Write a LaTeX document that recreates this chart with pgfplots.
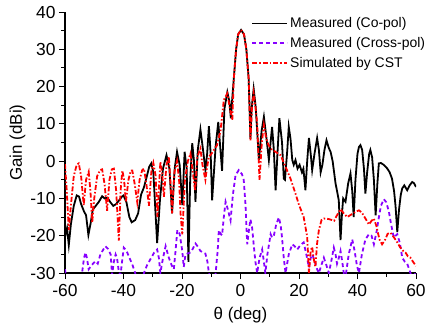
\documentclass[border=0pt]{standalone}
\usepackage{fontspec}
\setmainfont{Liberation Sans}
\usepackage{pgfplots}
\pgfplotsset{compat=1.18}
\definecolor{xpol}{RGB}{136,0,255}
\definecolor{simred}{RGB}{255,0,0}
\begin{document}
\begin{tikzpicture}
\path[use as bounding box] (-65bp,-55bp) rectangle (365bp,273bp);
\begin{axis}[
  scale only axis, width=351bp, height=261bp,
  xmin=-60, xmax=60, ymin=-30, ymax=40,
  axis x line=bottom, axis y line=left,
  axis line style={-, line width=1.2pt},
  xtick={-60,-40,-20,0,20,40,60},
  ytick={-30,-20,-10,0,10,20,30,40},
  minor x tick num=1, minor y tick num=1,
  tick align=outside,
  major tick length=6bp, minor tick length=3.5bp,
  tick style={line width=1pt, black},
  /pgf/number format/assume math mode=true,
  tick label style={font=\fontsize{17.5}{19}\selectfont},
  xticklabel style={yshift=-2bp},
  label style={font=\fontsize{17}{19}\selectfont},
  xlabel={θ (deg)}, ylabel={Gain (dBi)},
  xlabel style={yshift=-4bp},
  ylabel style={yshift=-2bp},
  legend style={at={(1.035,0.99)}, anchor=north east, draw=none, fill=none,
    font=\fontsize{14}{16}\selectfont, row sep=4bp, inner sep=1bp},
  legend cell align=left,
  legend image code/.code={\draw[#1] (0bp,0bp) -- (35bp,0bp);},
]
\addplot[color=black, line width=1.8pt] coordinates {
(-60,-20.3) (-59.3,-18) (-58.7,-22.5) (-58,-17) (-57,-12) (-56,-9.2) (-55.2,-9.5)
(-54.5,-11.5) (-53.5,-13.5) (-52.8,-14.5) (-52,-19.8) (-51.2,-16.5) (-50.5,-13)
(-49.5,-12) (-48.5,-11) (-47.3,-9.4) (-46.5,-10) (-45.5,-9.8) (-44.5,-11) (-43.5,-12)
(-42.5,-11.5) (-41.5,-10.5) (-40.5,-9.5) (-40,-9.2) (-39,-11) (-38,-15) (-37.2,-16.4)
(-36,-15.8) (-35,-14) (-34,-9) (-33,-7) (-32,-4) (-31.2,-1.5) (-30.5,-0.6) (-29.8,-3)
(-28.5,-22) (-27.5,-10) (-26.5,-2) (-25.3,1.6) (-24.3,-2) (-23.4,-14) (-22.5,-2)
(-21.7,2.5) (-20.8,-1) (-19.9,-11.8) (-19.1,2.5) (-18.4,-2) (-17.8,-27) (-17.2,-5)
(-16.5,4.8) (-15.9,0) (-15.4,-10.9) (-14.6,3) (-13.7,8.5) (-12.8,3) (-12,-2.4)
(-11.4,2) (-10.8,9.4) (-10.2,2) (-9.7,-10.5) (-8.5,4) (-7.6,10.5) (-6.3,-2.6)
(-5.5,14) (-4.5,18.5) (-3.8,16) (-3.3,11.5) (-2.8,17) (-2.3,22) (-1.5,30) (-0.8,34)
(0.2,35.2) (1.2,34) (2,30) (2.8,22) (3.4,6) (3.8,14) (4.5,19.4) (5.2,14.5) (6.3,0.3)
(7.2,8) (8,11.9) (8.9,6) (9.7,0.3) (10.8,9.2) (11.4,3) (12,-7.8) (12.7,3) (13.3,11.5)
(14.2,5) (14.8,-4.7) (15.2,-5) (16,3) (16.5,9.2) (17.1,6) (17.7,0.3) (18.2,-1)
(18.8,0.3) (19.5,-2) (20.2,-1) (21,-3) (21.5,-2) (22.2,-7.8) (22.8,0) (23.4,6.2)
(24,2) (24.5,-2.4) (25.3,2) (26.2,6.2) (26.8,3) (27.4,-3) (28,-1) (28.7,3) (29.4,5.6)
(30.2,3.5) (30.8,2.5) (31.5,0) (32.5,-6) (33,-8) (33.6,-10.5) (34.2,-21.2) (34.7,-14)
(35.1,-10) (35.9,-10.9) (36.8,-6) (37.6,-3.3) (38.2,-8) (38.7,-15) (39.3,-5) (40,2)
(40.5,3.8) (41,4.3) (41.6,3) (42.2,-2) (42.7,-8.7) (43.3,-3) (44,2) (44.4,3) (45,1)
(45.6,-5) (46.2,-14.5) (46.8,-6) (47.3,-0.6) (48,-0.5) (49,-1) (50.2,-2) (51,-3)
(51.8,-4.7) (52.5,-8) (53,-12) (53.6,-19) (54.2,-13) (54.8,-9) (55.3,-7.3) (56,-6.5)
(57,-7.8) (57.8,-6.5) (58.7,-5.6) (59.3,-5.9) (60,-6.9)
};
\addlegendentry{Measured (Co-pol)}
\addplot[color=xpol, line width=1.8pt, dash pattern=on 4bp off 3bp] coordinates {
(-60,-29) (-59.5,-32) (-54.5,-32) (-53.5,-26) (-53,-24.5) (-52.5,-26) (-51.9,-29)
(-51,-28) (-49.6,-26.8) (-48.8,-27.5) (-47.9,-25) (-46.2,-22.8) (-45.3,-23.5)
(-44.4,-25) (-43.9,-30.5) (-43.3,-27) (-42.7,-25) (-42.2,-26) (-41.6,-29.7) (-41,-30.5)
(-40.5,-27) (-39.9,-23.2) (-39,-24) (-38.2,-25.5) (-37,-27.7) (-36,-30) (-35.5,-32)
(-33.5,-32) (-33,-30) (-32,-28) (-30.8,-26.3) (-29.5,-24.5) (-28.5,-23.7) (-27.9,-26)
(-27.4,-30) (-26.5,-26) (-25.6,-22.8) (-24.5,-25.9) (-23.5,-28) (-22.8,-29) (-22.2,-24)
(-21.6,-18.5) (-20.8,-19.5) (-19.9,-24.1) (-19.4,-28.4) (-18.8,-25) (-18.2,-24.8)
(-17.1,-24.5) (-16.3,-23.5) (-15.4,-22.1) (-14.5,-23) (-13.7,-24.1) (-12.8,-24.5)
(-12,-24.8) (-11.3,-27) (-10.8,-30) (-10,-32) (-9,-32) (-8.5,-30) (-7.8,-24)
(-7.4,-18.5) (-6.8,-19.5) (-6.3,-19.9) (-5.7,-15) (-5.1,-10.9) (-4.3,-13) (-3.4,-15.9)
(-2.6,-9) (-1.7,-3.8) (-0.6,-2.4) (0.5,-3.5) (1.1,-5) (1.7,-11.6) (2.3,-22.3) (2.8,-19)
(3.4,-15.6) (4,-18) (4.5,-22.3) (5.1,-27) (5.7,-30) (6.5,-26) (7.4,-23.7) (8,-27)
(8.5,-30) (9.2,-25) (10.3,-19.6) (10.8,-20.5) (11.4,-20) (12.2,-17) (13.1,-15.1)
(13.7,-17) (14.2,-20.5) (14.8,-26) (15.4,-30) (16.5,-25) (17.7,-22.3) (18.5,-22.8)
(19.4,-23.7) (20.5,-22.5) (21.6,-21.8) (22.5,-25) (23.4,-28.5) (24,-26) (24.5,-25)
(25,-26) (25.6,-27.5) (26.2,-29) (26.8,-30) (27.6,-28) (28.5,-25.9) (29.4,-28)
(30.2,-30) (31,-27) (31.9,-23.2) (32.5,-25) (33,-27.5) (33.6,-26) (34.2,-24.1)
(34.8,-27) (35.3,-30) (36,-30.5) (37,-25) (38.2,-21) (39,-24) (39.8,-28) (40.5,-30)
(41.5,-25) (42.7,-21) (43.9,-19.6) (44.8,-20) (45.6,-22.3) (46.5,-19) (47.3,-15.1)
(48,-12) (49,-10.2) (49.8,-11) (50.7,-13.4) (51.5,-17) (52.4,-20.5) (53,-20)
(53.6,-19.6) (54.5,-22) (55.3,-25.9) (56.2,-27) (57,-27.5) (58.1,-30) (59,-32) (59.8,-30)
};
\addlegendentry{Measured (Cross-pol)}
\addplot[color=simred, line width=1.8pt, dash pattern=on 5bp off 2bp on 1.5bp off 2bp] coordinates {
(-60,-0.8) (-59.4,-8) (-58.7,-18.5) (-58,-12) (-57,-4) (-56,-1) (-55.3,-0.6)
(-54.5,-4) (-53.6,-11.8) (-52.8,-5) (-51.9,-2.9) (-51.3,-8) (-50.7,-16.5) (-50,-10)
(-49,-4) (-48,-2.4) (-47.3,-2.2) (-46.5,-6) (-45.6,-13.3) (-44.8,-5) (-44,-2.2)
(-43.3,-2) (-42.5,-8) (-41.6,-21.3) (-41,-8) (-40.4,-2.5) (-39.8,-5) (-39.2,-11)
(-38.3,-5) (-37.5,-2.5) (-37,-2.5) (-36.2,-6) (-35.3,-11) (-34.5,-5) (-33.6,-2.4)
(-33,-2) (-32.2,-6) (-31.3,-12) (-30.5,-3) (-29.8,-0.5) (-29,-4) (-28.4,-15)
(-27.4,-0.2) (-26.8,-3) (-26.2,-9.6) (-25.3,-1) (-24.5,1.2) (-24,-5) (-23.4,-14)
(-22.6,-3) (-21.7,0) (-21,-5) (-20.5,-14) (-19.9,-19.6) (-19,-5) (-18,0) (-17.1,2)
(-16.3,-3) (-15.5,-8) (-14.8,1) (-13.7,3.4) (-13,-1) (-12,-5) (-11.5,-2) (-10.8,1.2)
(-9.9,2) (-9.1,3) (-8,4.3) (-6.8,8.3) (-5.7,16.4) (-4.5,18.2) (-3.6,14) (-2.8,11)
(-2.3,22) (-1.5,30) (-0.8,34) (0.2,35.2) (1.2,34) (2,30) (2.8,22) (3.4,5.6) (3.9,14)
(4.5,18.2) (5.2,14) (5.7,10) (6.5,-5) (7.3,5) (8,9.7) (8.8,6) (9.6,4.3) (10.8,3)
(12,2.5) (13.7,1.6) (15.4,-1.5) (17.1,-4.7) (18.8,-8.7) (19.9,-11.5) (21.6,-15)
(22.8,-20.3) (23.4,-30) (24,-24) (24.5,-23) (25,-26) (25.6,-28.4) (26.2,-22)
(26.8,-18.5) (27.7,-15.8) (28.5,-15.4) (30,-15.5) (31.3,-15.8) (32,-16) (33,-14.5)
(34.2,-12.9) (35.3,-14) (36.5,-15) (37.5,-14.5) (38.5,-14) (39.5,-13.5) (40.5,-13.2)
(41.5,-13.8) (42.8,-15.5) (43.9,-17) (44.8,-16) (45.6,-15.4) (46.5,-17.5) (47.5,-21)
(48.4,-22.3) (49.5,-21) (50.3,-19.5) (51.3,-19.2) (52.5,-20.5) (53.6,-21.8) (54.5,-23)
(55.5,-24) (56.4,-24.5) (57.2,-25.5) (58.1,-25.9) (59,-27) (60,-28.1)
};
\addlegendentry{Simulated by CST}
\end{axis}
\end{tikzpicture}
\end{document}
